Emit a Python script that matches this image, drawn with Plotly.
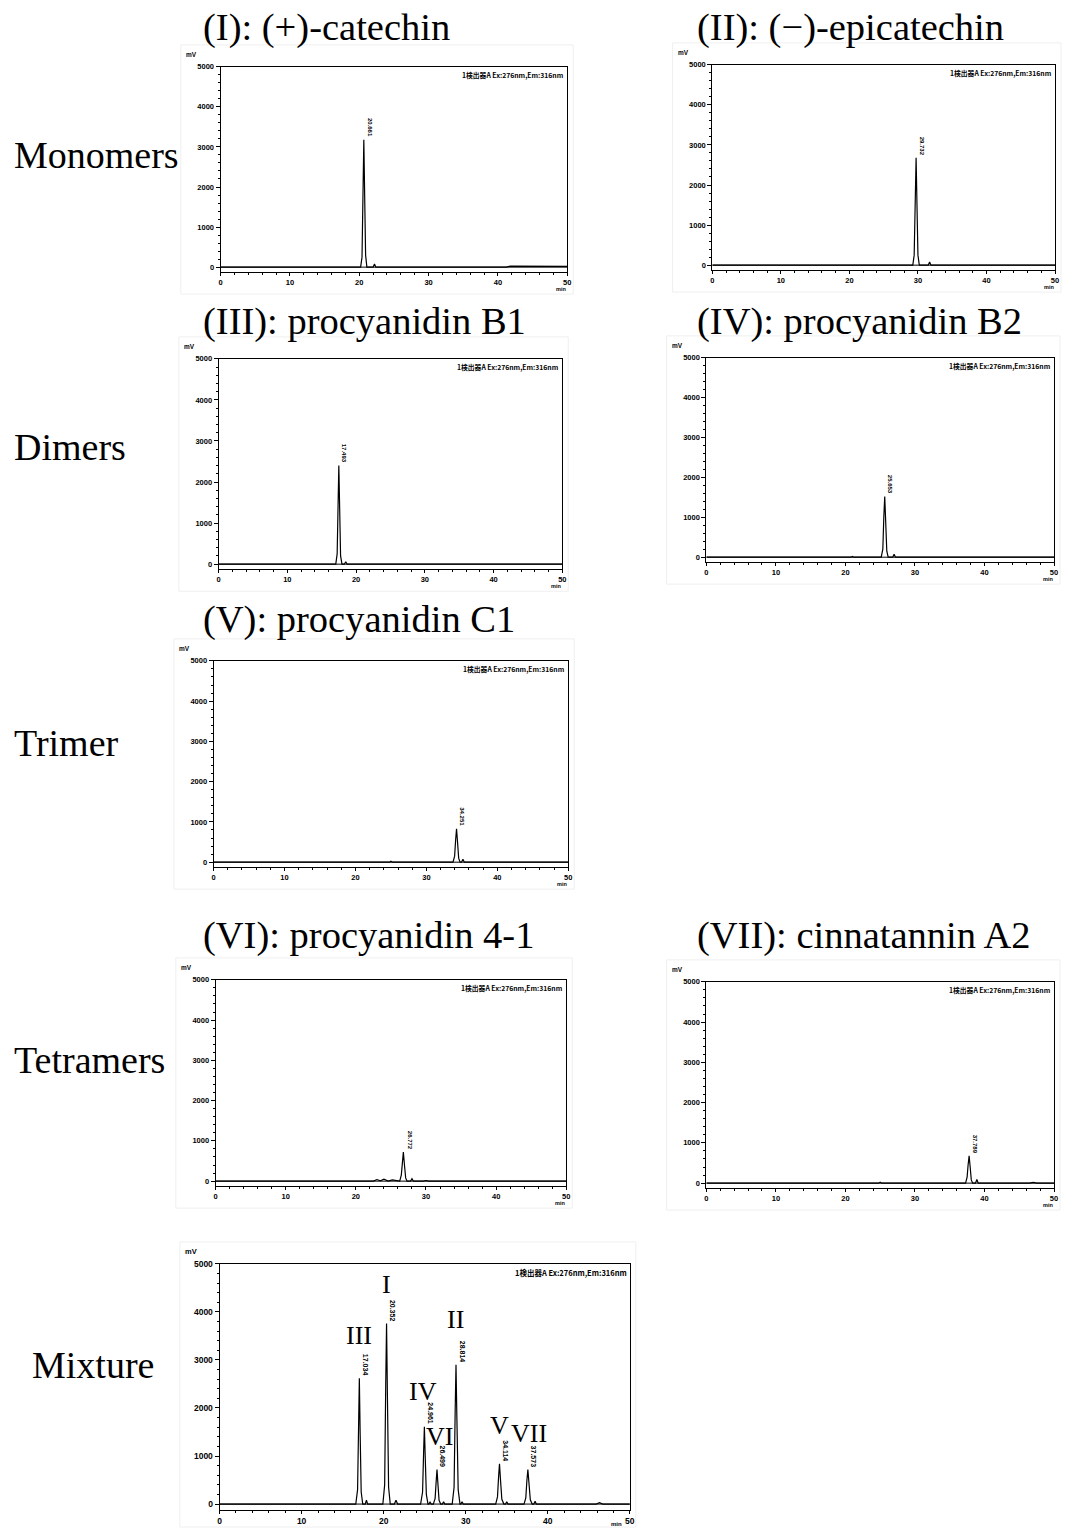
import plotly.graph_objects as go

W, H = 1065, 1528

# ---- retention times (min) printed by the integrator ----
rt_cat = 20.661
rt_epi = 29.732
rt_b1 = 17.493
rt_b2 = 25.653
rt_c1 = 34.251
rt_p41 = 26.772
rt_a2 = 37.789
rt_mix = [17.034, 20.352, 24.961, 26.499, 28.814, 34.114, 37.573]

# ---- chromatogram traces: time (min) / signal (mV) ----
cat_t = [0, 20.2, 20.4, 20.53, rt_cat, 20.79, 20.92, 21.1, 22.0, 22.2, 22.4, 41.2, 41.8, 50]
cat_mv = [0, 0, 250, 1800, 3180, 1700, 300, 0, 0, 80, 0, 0, 25, 20]

epi_t = [0, 29.25, 29.45, 29.6, rt_epi, 29.86, 30.0, 30.2, 31.5, 31.7, 31.9, 50]
epi_mv = [0, 0, 250, 1700, 2680, 1500, 250, 0, 0, 80, 0, 0]

b1_t = [0, 17.05, 17.25, 17.38, rt_b1, 17.61, 17.75, 17.95, 18.3, 18.5, 18.7, 50]
b1_mv = [0, 0, 250, 1500, 2400, 1400, 200, 0, 0, 60, 0, 0]

b2_t = [0, 20.8, 21.0, 21.2, 25.15, 25.38, 25.52, rt_b2, 25.79, 25.95, 26.15, 26.8, 27.0, 27.2, 50]
b2_mv = [0, 0, 20, 0, 0, 200, 1000, 1520, 900, 150, 0, 0, 70, 0, 0]

c1_t = [0, 24.8, 25.0, 25.2, 33.75, 33.98, 34.12, rt_c1, 34.39, 34.55, 34.75, 34.95, 35.15, 35.35, 50]
c1_mv = [0, 0, 25, 0, 0, 150, 550, 830, 500, 100, 0, 0, 70, 0, 0]

p41_t = [0, 22.5, 23.0, 23.5, 24.0, 24.6, 25.2, 26.25, 26.48, 26.63, rt_p41, 26.92, 27.1, 27.3, 27.8, 28.0, 28.2, 29.6, 30.0, 30.4, 50]
p41_mv = [0, 0, 40, 10, 50, 0, 30, 0, 150, 480, 720, 420, 80, 0, 0, 60, 0, 0, 15, 0, 0]

a2_t = [0, 24.8, 25.0, 25.2, 37.28, 37.5, 37.64, rt_a2, 37.94, 38.1, 38.3, 38.7, 38.9, 39.1, 46.5, 47.0, 47.5, 50]
a2_mv = [0, 0, 25, 0, 0, 150, 450, 680, 400, 80, 0, 0, 90, 0, 0, 20, 0, 0]

mix_t = [0,
         16.6, 16.82, 16.94, rt_mix[0], 17.13, 17.26, 17.45, 17.75, 17.9, 18.05,
         19.9, 20.12, 20.25, rt_mix[1], 20.46, 20.6, 20.8, 21.3, 21.5, 21.7,
         24.5, 24.74, 24.87, rt_mix[2], 25.06, 25.2, 25.4, 25.5, 25.65, 25.8,
         26.05, 26.27, 26.4, rt_mix[3], 26.6, 26.75, 26.95, 27.15, 27.3, 27.45,
         28.35, 28.58, 28.71, rt_mix[4], 28.92, 29.08, 29.3, 29.4, 29.55, 29.7,
         33.65, 33.87, 34.0, rt_mix[5], 34.23, 34.4, 34.65, 34.85, 35.0, 35.15,
         37.1, 37.32, 37.45, rt_mix[6], 37.7, 37.87, 38.1, 38.3, 38.45, 38.6,
         45.9, 46.3, 46.7, 50]
mix_mv = [0,
          0, 300, 1700, 2620, 1500, 250, 0, 0, 80, 0,
          0, 400, 2500, 3760, 2200, 350, 0, 0, 80, 0,
          0, 250, 1100, 1610, 1000, 200, 0, 0, 40, 0,
          0, 120, 480, 720, 450, 80, 0, 0, 50, 0,
          0, 350, 1900, 2900, 1800, 300, 0, 0, 50, 0,
          0, 150, 560, 840, 520, 100, 0, 0, 50, 0,
          0, 130, 480, 720, 450, 90, 0, 0, 60, 0,
          0, 30, 0, 0]

# peak identities in the mixture run
mix_ids = ["III", "I", "IV", "VI", "II", "V", "VII"]

titles = ["(I): (+)-catechin", "(II): (\u2212)-epicatechin", "(III): procyanidin B1",
          "(IV): procyanidin B2", "(V): procyanidin C1", "(VI): procyanidin 4-1",
          "(VII): cinnatannin A2"]
groups = ["Monomers", "Dimers", "Trimer", "Tetramers", "Mixture"]

detector = "1\u691c\u51fa\u5668A Ex:276nm,Em:316nm"


def fx(px):
    return px / W


def fy(py):
    return 1 - py / H


# panel placement in pixels: left, right, top (5000 mV), zero line (0 mV)
panels = [
    dict(t=cat_t, v=cat_mv, rts=[rt_cat], box=(220, 569, 62, 263), title=(200, 23)),
    dict(t=epi_t, v=epi_mv, rts=[rt_epi], box=(715, 1060, 60, 261), title=(698, 23)),
    dict(t=b1_t, v=b1_mv, rts=[rt_b1], box=(218, 564, 355, 561), title=(200, 318)),
    dict(t=b2_t, v=b2_mv, rts=[rt_b2], box=(709, 1059, 354, 554), title=(698, 318)),
    dict(t=c1_t, v=c1_mv, rts=[rt_c1], box=(213, 570, 658, 860), title=(200, 617)),
    dict(t=p41_t, v=p41_mv, rts=[rt_p41], box=(215, 568, 978, 1180), title=(200, 934)),
    dict(t=a2_t, v=a2_mv, rts=[rt_a2], box=(709, 1059, 980, 1182), title=(698, 934)),
    dict(t=mix_t, v=mix_mv, rts=rt_mix, box=(219, 632, 1263, 1504), title=None),
]

YMIN, YMAX = -125, 5000

fig = go.Figure()
annotations = []
shapes = []
layout = {}

serif = "Liberation Serif, Times New Roman, serif"
sans = "Liberation Sans, Arial, sans-serif"

for i, p in enumerate(panels):
    sfx = "" if i == 0 else str(i + 1)
    xa, ya = "x" + sfx, "y" + sfx
    x0, x1, ytop, yzero = p["box"]
    ybot = yzero + (yzero - ytop) * (-YMIN) / YMAX
    big = i == 7
    tick_size = 8.5 if big else 7.5
    lab_size = 7.5 if big else 6.5

    fig.add_trace(go.Scatter(x=p["t"], y=p["v"], mode="lines",
                             line=dict(color="black", width=1.2),
                             xaxis=xa, yaxis=ya, showlegend=False,
                             hoverinfo="skip"))

    axcommon = dict(showline=True, mirror=True, linecolor="black", linewidth=1,
                    showgrid=False, zeroline=False, ticks="outside",
                    tickcolor="black", tickfont=dict(family=sans, size=tick_size,
                                                     color="black", weight="bold"),
                    fixedrange=True)
    layout["xaxis" + sfx] = dict(axcommon, domain=[fx(x0), fx(x1)], range=[0, 50],
                                 anchor=ya, tickmode="linear", tick0=0, dtick=10,
                                 ticklen=3, tickwidth=1,
                                 minor=dict(dtick=2, ticks="outside", ticklen=2,
                                            tickcolor="black"))
    layout["yaxis" + sfx] = dict(axcommon, domain=[fy(ybot), fy(ytop)],
                                 range=[YMIN, YMAX], anchor=xa, tickmode="array",
                                 tickvals=[0, 1000, 2000, 3000, 4000, 5000],
                                 ticklen=4, tickwidth=1,
                                 minor=dict(tickvals=[v for v in range(200, 5000, 200)
                                                      if v % 1000],
                                            ticks="outside", ticklen=2,
                                            tickcolor="black"))

    # zero baseline across the window
    shapes.append(dict(type="line", xref=xa, yref=ya, x0=0, x1=50, y0=0, y1=0,
                       line=dict(color="black", width=1)))
    # faint frame of the exported chromatogram
    shapes.append(dict(type="rect", xref="paper", yref="paper",
                       x0=fx(x0 - 40), x1=fx(x1 + 6), y0=fy(min(ybot + 22, H - 1)),
                       y1=fy(ytop - 22), line=dict(color="#efefef", width=1)))

    annotations.append(dict(text="mV", x=fx(x0 - 37), y=fy(ytop - 12), xref="paper",
                            yref="paper", xanchor="left", yanchor="middle",
                            showarrow=False,
                            font=dict(family=sans, size=lab_size, color="black",
                                      weight="bold")))
    if big:
        min_x, min_y = x1 - 6, ybot + 14
    else:
        min_x, min_y = x1 + 1, ybot + 17
    annotations.append(dict(text="min", x=fx(min_x), y=fy(min_y), xref="paper",
                            yref="paper", xanchor="right", yanchor="middle",
                            showarrow=False,
                            font=dict(family=sans, size=lab_size - 1.5 if big else lab_size - 1,
                                      color="black", weight="bold")))
    annotations.append(dict(text=detector, x=fx(x1 - 1), y=fy(ytop + 1), xref="paper",
                            yref="paper", xanchor="right", yanchor="top",
                            showarrow=False,
                            font=dict(family="Noto Sans CJK JP, " + sans,
                                      size=6.8 if not big else 7.5, color="black",
                                      weight="bold")))

    # retention-time labels at each apex
    for rt in p["rts"]:
        h = p["v"][p["t"].index(rt)]
        txt = f"{rt:.3f}"
        annotations.append(dict(text=txt, x=rt, y=h, xref=xa, yref=ya,
                                xanchor="center", yanchor="middle", textangle=90,
                                xshift=6, yshift=12 if not big else 13,
                                showarrow=False,
                                font=dict(family=sans, size=lab_size - 0.5,
                                          color="black", weight="bold")))

    if p["title"] is not None:
        tx, ty = p["title"]
        annotations.append(dict(text=titles[i], x=fx(tx), y=fy(ty), xref="paper",
                                yref="paper", xanchor="left", yanchor="middle",
                                showarrow=False,
                                font=dict(family=serif, size=38.5, color="black")))

# compound identities above mixture peaks
mix_pos = {"III": (17.0, 3500), "I": (20.4, 4570), "IV": (24.8, 2335),
           "VI": (26.75, 1405), "II": (28.7, 3840), "V": (34.1, 1632),
           "VII": (37.65, 1467)}
for name in mix_ids:
    x, y = mix_pos[name]
    annotations.append(dict(text=name, x=x, y=y, xref="x8", yref="y8",
                            xanchor="center", yanchor="middle", showarrow=False,
                            font=dict(family=serif, size=26, color="black")))

# row labels
row_pos = [(10, 150), (10, 443), (10, 740), (10, 1058), (28, 1364)]
for g, (gx, gy) in zip(groups, row_pos):
    annotations.append(dict(text=g, x=fx(gx), y=fy(gy), xref="paper", yref="paper",
                            xanchor="left", yanchor="middle", showarrow=False,
                            font=dict(family=serif, size=38, color="black")))

fig.update_layout(width=W, height=H, autosize=False,
                  margin=dict(l=0, r=0, t=0, b=0),
                  paper_bgcolor="white", plot_bgcolor="white",
                  annotations=annotations, shapes=shapes, **layout)

fig.write_html("out.html")
